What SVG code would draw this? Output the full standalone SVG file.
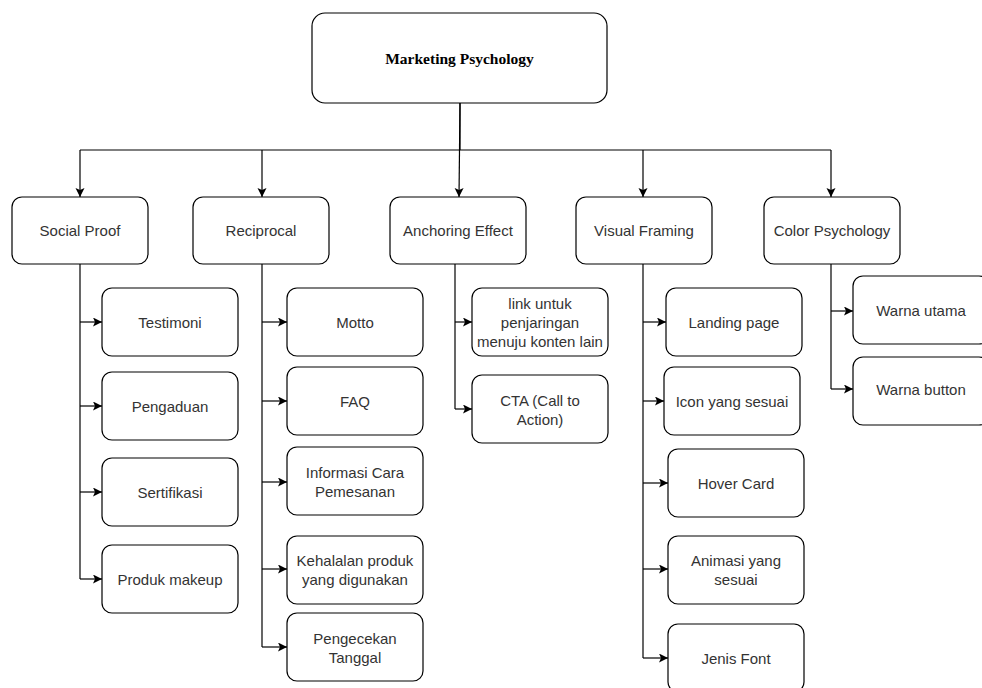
<svg xmlns="http://www.w3.org/2000/svg" width="982" height="688" viewBox="0 0 982 688">
<defs>
<marker id="arr" markerUnits="userSpaceOnUse" markerWidth="10" markerHeight="10" refX="9" refY="4.5" orient="auto">
<path d="M0,0 L9,4.5 L0,9 L2,4.5 Z" fill="#000"/>
</marker>
<style>
.b{fill:#fff;stroke:#000;stroke-width:1.2}
.t{font-family:"Liberation Sans",Arial,sans-serif;font-size:15px;fill:#333;text-anchor:middle;dominant-baseline:central}
.r{font-family:"Liberation Serif","Times New Roman",serif;font-size:15.5px;font-weight:bold;fill:#000;text-anchor:middle;dominant-baseline:central}
.c{fill:none;stroke:#000;stroke-width:1.2}
.a{fill:none;stroke:#000;stroke-width:1.2;marker-end:url(#arr)}
</style>
</defs>
<rect width="982" height="688" fill="#fff"/>
<g id="connectors">
<path class="c" d="M460,103 V150 M80,150 H831"/>
<path class="a" d="M80,150 V197"/>
<path class="a" d="M262,150 V197"/>
<path class="a" d="M460,103 L459,197"/>
<path class="a" d="M643,150 V197"/>
<path class="a" d="M831,150 V197"/>
<path class="c" d="M80,264 V579"/>
<path class="a" d="M80,322 H102"/>
<path class="a" d="M80,406 H102"/>
<path class="a" d="M80,492 H102"/>
<path class="a" d="M80,579 H102"/>
<path class="c" d="M262,264 V647"/>
<path class="a" d="M262,322 H287"/>
<path class="a" d="M262,401 H287"/>
<path class="a" d="M262,482 H287"/>
<path class="a" d="M262,569 H287"/>
<path class="a" d="M262,647 H287"/>
<path class="c" d="M455,264 V409"/>
<path class="a" d="M455,322 H472"/>
<path class="a" d="M455,409 H472"/>
<path class="c" d="M643,264 V658"/>
<path class="a" d="M643,322 H666"/>
<path class="a" d="M643,401 H664"/>
<path class="a" d="M643,483 H668"/>
<path class="a" d="M643,569 H668"/>
<path class="a" d="M643,658 H668"/>
<path class="c" d="M831,264 V389"/>
<path class="a" d="M831,311 H853"/>
<path class="a" d="M831,389 H853"/>
</g>
<g id="root"><rect class="b" x="312" y="13" width="295" height="90" rx="13"/><text class="r" x="459.5" y="58">Marketing Psychology</text></g>
<g id="social-proof"><rect class="b" x="12" y="197" width="136" height="67" rx="10"/><text class="t" x="80" y="230.5">Social Proof</text></g>
<g id="reciprocal"><rect class="b" x="193" y="197" width="136" height="67" rx="10"/><text class="t" x="261" y="230.5">Reciprocal</text></g>
<g id="anchoring"><rect class="b" x="390" y="197" width="136" height="67" rx="10"/><text class="t" x="458" y="230.5">Anchoring Effect</text></g>
<g id="visual-framing"><rect class="b" x="576" y="197" width="136" height="67" rx="10"/><text class="t" x="644" y="230.5">Visual Framing</text></g>
<g id="color-psychology"><rect class="b" x="764" y="197" width="136" height="67" rx="10"/><text class="t" x="832" y="230.5">Color Psychology</text></g>
<g id="testimoni"><rect class="b" x="102" y="288" width="136" height="68" rx="10"/><text class="t" x="170" y="322">Testimoni</text></g>
<g id="pengaduan"><rect class="b" x="102" y="372" width="136" height="68" rx="10"/><text class="t" x="170" y="406">Pengaduan</text></g>
<g id="sertifikasi"><rect class="b" x="102" y="458" width="136" height="68" rx="10"/><text class="t" x="170" y="492">Sertifikasi</text></g>
<g id="produk-makeup"><rect class="b" x="102" y="545" width="136" height="68" rx="10"/><text class="t" x="170" y="579">Produk makeup</text></g>
<g id="motto"><rect class="b" x="287" y="288" width="136" height="68" rx="10"/><text class="t" x="355" y="322">Motto</text></g>
<g id="faq"><rect class="b" x="287" y="367" width="136" height="68" rx="10"/><text class="t" x="355" y="401">FAQ</text></g>
<g id="informasi"><rect class="b" x="287" y="447" width="136" height="68" rx="10"/><text class="t" x="355" y="472">Informasi Cara</text><text class="t" x="355" y="491">Pemesanan</text></g>
<g id="kehalalan"><rect class="b" x="287" y="536" width="136" height="68" rx="10"/><text class="t" x="355" y="560">Kehalalan produk</text><text class="t" x="355" y="579">yang digunakan</text></g>
<g id="pengecekan"><rect class="b" x="287" y="613" width="136" height="68" rx="10"/><text class="t" x="355" y="638">Pengecekan</text><text class="t" x="355" y="657">Tanggal</text></g>
<g id="link"><rect class="b" x="472" y="288" width="136" height="68" rx="10"/><text class="t" x="540" y="303">link untuk</text><text class="t" x="540" y="322">penjaringan</text><text class="t" x="540" y="341">menuju konten lain</text></g>
<g id="cta"><rect class="b" x="472" y="375" width="136" height="68" rx="10"/><text class="t" x="540" y="400">CTA (Call to</text><text class="t" x="540" y="419">Action)</text></g>
<g id="landing-page"><rect class="b" x="666" y="288" width="136" height="68" rx="10"/><text class="t" x="734" y="322">Landing page</text></g>
<g id="icon"><rect class="b" x="664" y="367" width="136" height="68" rx="10"/><text class="t" x="732" y="401">Icon yang sesuai</text></g>
<g id="hover-card"><rect class="b" x="668" y="449" width="136" height="68" rx="10"/><text class="t" x="736" y="483">Hover Card</text></g>
<g id="animasi"><rect class="b" x="668" y="536" width="136" height="68" rx="10"/><text class="t" x="736" y="560">Animasi yang</text><text class="t" x="736" y="579">sesuai</text></g>
<g id="jenis-font"><rect class="b" x="668" y="624" width="136" height="68" rx="10"/><text class="t" x="736" y="658">Jenis Font</text></g>
<g id="warna-utama"><rect class="b" x="853" y="276" width="136" height="68" rx="10"/><text class="t" x="921" y="310">Warna utama</text></g>
<g id="warna-button"><rect class="b" x="853" y="357" width="136" height="68" rx="10"/><text class="t" x="921" y="389">Warna button</text></g>
</svg>
